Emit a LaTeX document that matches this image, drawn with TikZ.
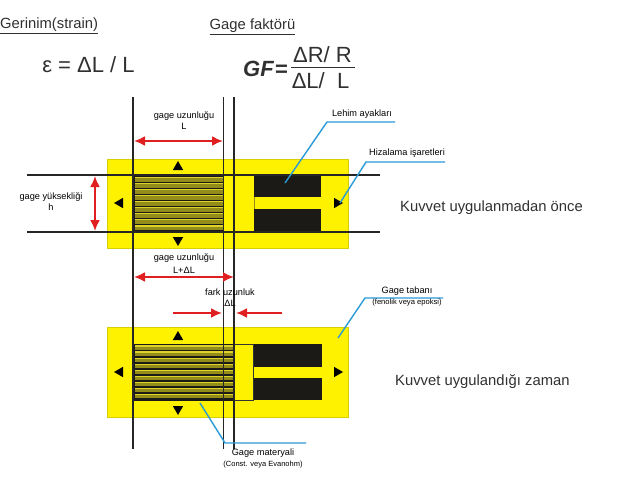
\documentclass[tikz,border=0pt]{standalone}
\usepackage{fontspec}
\setmainfont{Liberation Sans}
\usetikzlibrary{shapes.geometric, arrows.meta}
\definecolor{gage-yellow}{HTML}{FFF200}
\definecolor{gage-olive}{HTML}{948C18}
\definecolor{gage-light}{HTML}{DCD228}
\definecolor{pad-black}{HTML}{1C1A16}
\definecolor{dim-red}{HTML}{E02020}
\definecolor{leader-blue}{HTML}{2A9AD6}
\definecolor{text-gray}{HTML}{303030}
\newcommand{\gagegrid}[4]{% left, right, top, bottom
  \fill[pad-black] (#1,#3) rectangle (#2,#4);
  \foreach \i in {0,...,8} {
    \fill[gage-light] (#1+1,{#3+1.4+\i*(#4-#3-2)/9}) rectangle (#2-0.5,{#3+2.6+\i*(#4-#3-2)/9});
    \fill[gage-olive] (#1+1,{#3+2.6+\i*(#4-#3-2)/9}) rectangle (#2-0.5,{#3+6+\i*(#4-#3-2)/9});
  }
}
\tikzset{
  base/.style={draw=gage-yellow!85!black, fill=gage-yellow, line width=0.5pt, minimum width=241, minimum height=#1, inner sep=0pt},
  pad/.style={fill=pad-black, inner sep=0pt, minimum width=68, minimum height=22.5},
  tri/.style={regular polygon, regular polygon sides=3, fill=black, inner sep=0pt, minimum size=12},
  rule/.style={draw=black!85, line width=1.1pt},
  dim/.style={draw=dim-red, line width=2pt, {Latex[length=11pt,width=10pt]}-{Latex[length=11pt,width=10pt]}},
  dimin/.style={draw=dim-red, line width=2pt, -{Latex[length=11pt,width=10pt]}},
  leader/.style={draw=leader-blue, line width=1.4pt},
  tiny/.style={font=\fontsize{9.2}{11}\selectfont, align=center, inner sep=0pt, text=black},
  head/.style={font=\fontsize{14.8}{17}\selectfont, inner sep=0pt, text=text-gray},
  eqn/.style={font=\fontsize{22}{25}\selectfont, inner sep=0pt, text=text-gray},
  caption/.style={font=\fontsize{14.8}{17}\selectfont, inner sep=0pt, text=text-gray, anchor=west},
}
\begin{document}
\begin{tikzpicture}[x=1pt, y=-1pt]
    % Coordinates are reference pixels (x, y), y down
    \useasboundingbox (0,0) rectangle (640,480);
    % yellow backings
    \node[base=89] (upperbase) at (227.5,203.5) {};
    \node[base=90] (lowerbase) at (227.5,372) {};
    % grids
    \gagegrid{134}{223}{175.5}{232}
    \gagegrid{134}{234}{344}{400.5}
    % solder pads
    \node[pad, minimum width=67] (padA) at (287.5,186) {};
    \node[pad, minimum width=67] (padB) at (287.5,220.5) {};
    \node[pad] (padC) at (288,355.5) {};
    \node[pad] (padD) at (288,389) {};
    \draw[black!80, line width=0.8pt] (234,344) -| (253,400.5) -- (234,400.5);
    \draw[gage-olive, line width=0.7pt] (254,197) -- (254,209);
    % alignment marks
    \node[tri] (markT1) at (178,167) {};
    \node[tri, rotate=180] (markB1) at (178,240) {};
    \node[tri, rotate=90] (markL1) at (120,203) {};
    \node[tri, rotate=-90] (markR1) at (337,203) {};
    \node[tri] (markT2) at (178,337) {};
    \node[tri, rotate=180] (markB2) at (178,409) {};
    \node[tri, rotate=90] (markL2) at (120,372) {};
    \node[tri, rotate=-90] (markR2) at (337,372) {};
    % reference lines
    \coordinate (hA) at (27,175); \coordinate (hB) at (380,175);
    \coordinate (hC) at (27,232); \coordinate (hD) at (380,232);
    \coordinate (vA) at (133,97); \coordinate (vB) at (133,449);
    \coordinate (vC) at (223.5,97); \coordinate (vD) at (223.5,449);
    \coordinate (vE) at (234,97); \coordinate (vF) at (234,449);
    \draw[rule] (hA) -- (hB);
    \draw[rule] (hC) -- (hD);
    \draw[rule] (vA) -- (vB);
    \draw[rule] (vC) -- (vD);
    \draw[rule] (vE) -- (vF);
    % red dimensions
    \coordinate (lenA) at (134,141); \coordinate (lenB) at (223,141);
    \coordinate (hgtA) at (95,176); \coordinate (hgtB) at (95,231);
    \coordinate (lenC) at (134,277); \coordinate (lenD) at (234,277);
    \coordinate (difA) at (173,313); \coordinate (difB) at (222,313);
    \coordinate (difC) at (282,313); \coordinate (difD) at (236,313);
    \draw[dim] (lenA) -- (lenB);
    \draw[dim] (hgtA) -- (hgtB);
    \draw[dim] (lenC) -- (lenD);
    \draw[dimin] (difA) -- (difB);
    \draw[dimin] (difC) -- (difD);
    % blue leaders
    \coordinate (solA) at (285,183); \coordinate (solB) at (327,122); \coordinate (solC) at (395,122);
    \coordinate (aliA) at (340,203); \coordinate (aliB) at (366,162); \coordinate (aliC) at (445,162);
    \coordinate (basA) at (338,338); \coordinate (basB) at (365,298); \coordinate (basC) at (443,298);
    \coordinate (matA) at (200,403); \coordinate (matB) at (225,443); \coordinate (matC) at (306,443);
    \draw[leader] (solA) -- (solB) -- (solC);
    \draw[leader] (aliA) -- (aliB) -- (aliC);
    \draw[leader] (basA) -- (basB) -- (basC);
    \draw[leader] (matA) -- (matB) -- (matC);
    % labels
    \node[tiny] (lenlabel) at (184,120.5) {gage uzunluğu\\L};
    \node[tiny] (hgtlabel) at (51,201.5) {gage yüksekliği\\h};
    \node[tiny] (lenlabelB) at (184,264) {gage uzunluğu\\[2pt]L+ΔL};
    \node[tiny] (diflabel) at (230,298) {fark uzunluk\\ΔL};
    \node[tiny] (sollabel) at (362,114) {Lehim ayakları};
    \node[tiny] (alilabel) at (407,153) {Hizalama işaretleri};
    \node[tiny] (baslabel) at (407,296.5) {Gage tabanı\\{\fontsize{7.6}{8}\selectfont (fenolik veya epoksi)}};
    \node[tiny] (matlabel) at (263,458) {Gage materyali\\{\fontsize{7.5}{8}\selectfont (Const. veya Evanohm)}};
    % headings
    \node[head, anchor=west] (strainhead) at (0,26) {\underline{Gerinim(strain)}};
    \node[head, anchor=west] (gfhead) at (209.5,27) {\underline{Gage faktörü}};
    \node[eqn] (straineq) at (88.5,65) {ε = ΔL / L};
    \node[eqn, anchor=west] (gfeq) at (243,69) {\bfseries\textit{GF}\kern1pt=};
    \node[eqn] (gfnum) at (322.5,55) {ΔR/ R};
    \node[eqn] (gfden) at (320.5,81) {ΔL/\ \ L};
    \coordinate (fracA) at (291,67.5); \coordinate (fracB) at (355,67.5);
    \draw[text-gray, line width=1.1pt] (fracA) -- (fracB);
    \node[caption] (beforelabel) at (400,208) {Kuvvet uygulanmadan önce};
    \node[caption] (afterlabel) at (395,382) {Kuvvet uygulandığı zaman};
\end{tikzpicture}
\end{document}
